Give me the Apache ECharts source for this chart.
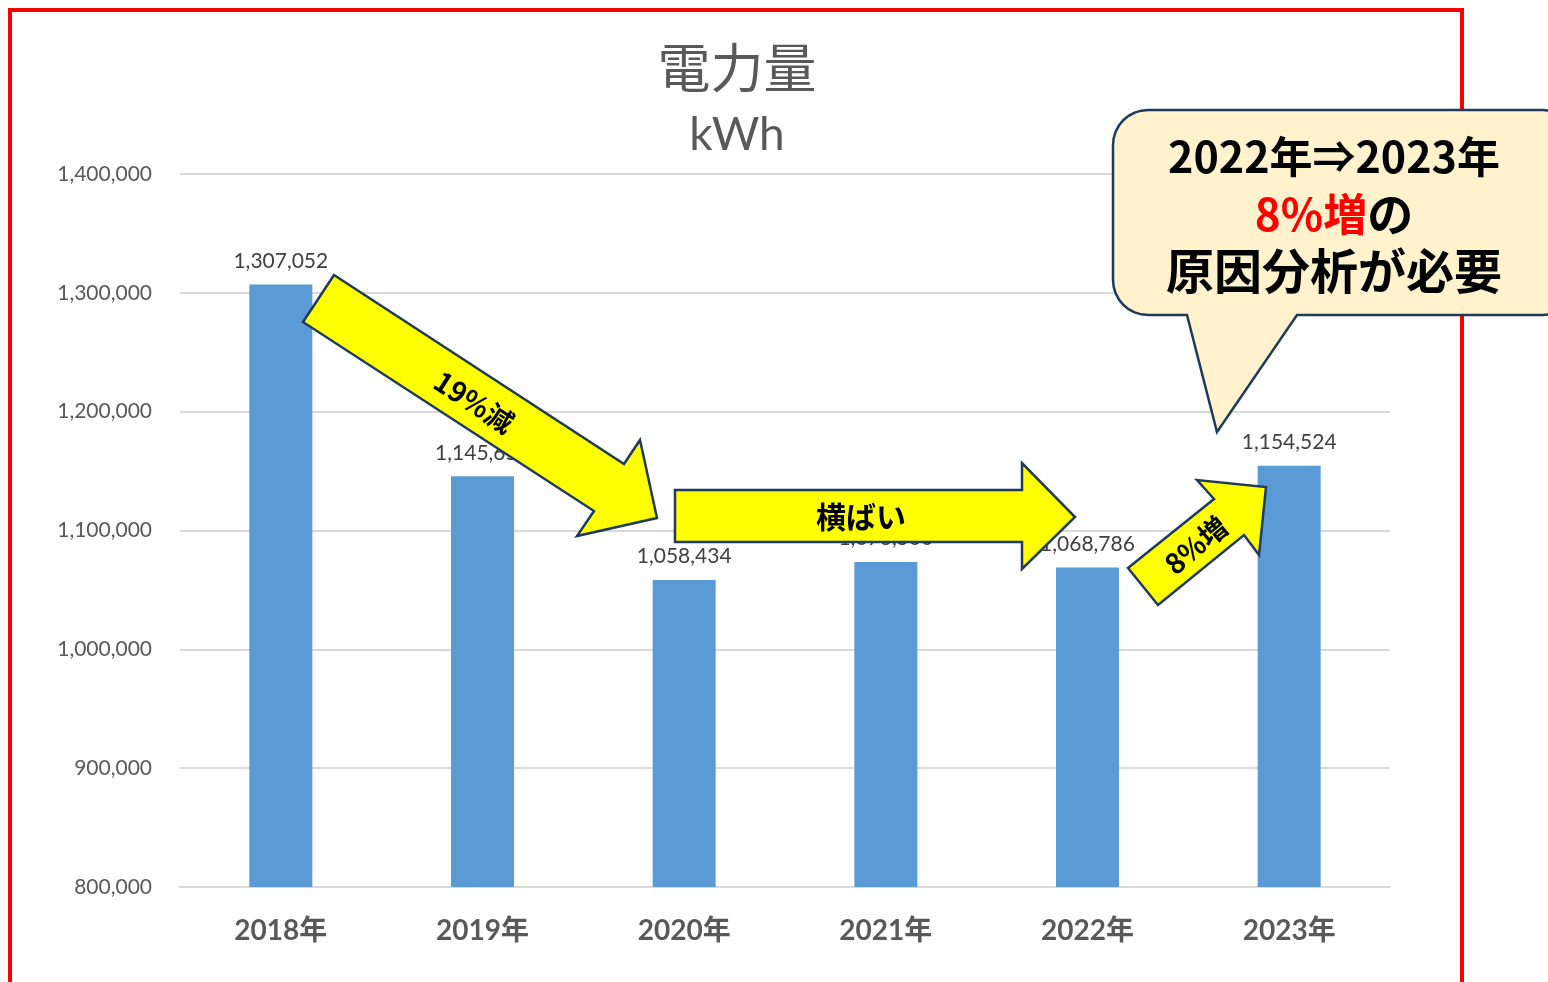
<!DOCTYPE html>
<html>
<head>
<meta charset="utf-8">
<script src="https://cdn.jsdelivr.net/npm/echarts@6/dist/echarts.min.js"></script>
<style>
  html, body { margin: 0; padding: 0; background: #fff; }
  #chart { width: 1548px; height: 982px; }
</style>
</head>
<body>
<div id="chart"></div>
<script>
// datos
const years = ["2018年", "2019年", "2020年", "2021年", "2022年", "2023年"];
const kwh = [1307052, 1145650, 1058434, 1073500, 1068786, 1154524];
const yTicks = { min: 800000, max: 1400000, interval: 100000 };

const fuente = 'Lato, "Noto Sans CJK JP", sans-serif';
const fuenteJP = '"Noto Sans CJK JP", sans-serif';
const gris = "#595959";
const flecha = { fill: "#ffff00", stroke: "#1f3a5a", lineWidth: 2.5, lineJoin: "miter" };

// contorno del globo (rect redondeado + cola)
function globo(x0, y0, x1, y1, r, cola) {
  const pts = [];
  const esquina = (cx, cy, a0) => {
    for (let i = 0; i <= 8; i++) {
      const a = a0 + (i / 8) * (Math.PI / 2);
      pts.push([cx + r * Math.cos(a), cy + r * Math.sin(a)]);
    }
  };
  esquina(x0 + r, y0 + r, Math.PI);
  esquina(x1 - r, y0 + r, -Math.PI / 2);
  esquina(x1 - r, y1 - r, 0);
  cola.forEach((p) => pts.push(p));
  esquina(x0 + r, y1 - r, Math.PI / 2);
  return pts;
}

const container = document.querySelector("#chart");
const miGrafico = echarts.init(container);

const option = {
  animation: false,
  grid: { left: 180, right: 158, top: 174, bottom: 95 },
  xAxis: {
    type: "category",
    data: years,
    axisLine: { lineStyle: { color: "#d9d9d9", width: 2 } },
    axisTick: { show: false },
    axisLabel: {
      color: gris, fontSize: 28, fontWeight: "bold", fontFamily: fuente, margin: 30,
    },
  },
  yAxis: {
    type: "value",
    min: yTicks.min,
    max: yTicks.max,
    interval: yTicks.interval,
    axisLine: { show: false },
    axisTick: { show: false },
    splitLine: { lineStyle: { color: "#d9d9d9", width: 2 } },
    axisLabel: {
      color: gris, fontSize: 21, fontFamily: fuente, margin: 28,
      formatter: (v) => v.toLocaleString("en-US"),
    },
  },
  series: [
    {
      type: "bar",
      data: kwh,
      barWidth: 63,
      itemStyle: { color: "#5b9bd5" },
      label: {
        show: true,
        position: "top",
        distance: 13,
        color: "#404040",
        fontSize: 21,
        fontFamily: fuente,
        formatter: (p) => p.value.toLocaleString("en-US"),
      },
    },
  ],
  graphic: [
    // marco rojo
    {
      type: "rect", z: 50, silent: true,
      shape: { x: 10, y: 10, width: 1452, height: 1000 },
      style: { fill: "none", stroke: "#ff0000", lineWidth: 4 },
    },
    // titulo
    {
      type: "text", z: 60, x: 737, y: 68,
      style: { text: "電力量", fill: gris, font: '53px ' + fuenteJP, align: "center", verticalAlign: "middle" },
    },
    {
      type: "text", z: 60, x: 737, y: 135,
      style: { text: "kWh", fill: gris, font: '46px ' + fuente, align: "center", verticalAlign: "middle" },
    },
    // flecha 19%減
    {
      type: "polygon", z: 100,
      shape: { points: [[334, 275], [624, 464], [640, 440], [657, 518], [577, 536], [594, 511], [303, 322]] },
      style: flecha,
    },
    {
      type: "text", z: 101, x: 474, y: 402, rotation: -33 * Math.PI / 180,
      style: { text: "19%減", fill: "#000", font: 'bold 28px ' + fuenteJP, align: "center", verticalAlign: "middle" },
    },
    // flecha 横ばい
    {
      type: "polygon", z: 100,
      shape: { points: [[675, 490], [1022, 490], [1022, 463], [1075, 517], [1022, 569], [1022, 542], [675, 542]] },
      style: flecha,
    },
    {
      type: "text", z: 101, x: 861, y: 517,
      style: { text: "横ばい", fill: "#000", font: 'bold 30px ' + fuenteJP, align: "center", verticalAlign: "middle" },
    },
    // flecha 8%増
    {
      type: "polygon", z: 100,
      shape: { points: [[1128, 568], [1214, 499], [1197, 480], [1266, 487], [1259, 555], [1244, 535], [1158, 605]] },
      style: flecha,
    },
    {
      type: "text", z: 101, x: 1196, y: 545, rotation: 40 * Math.PI / 180,
      style: { text: "8%増", fill: "#000", font: 'bold 28px ' + fuenteJP, align: "center", verticalAlign: "middle" },
    },
    // globo
    {
      type: "polygon", z: 110,
      shape: { points: globo(1113, 110, 1578, 315, 35, [[1297, 315], [1217, 432], [1187, 315]]) },
      style: { fill: "#fff2cc", stroke: "#1f3a5a", lineWidth: 2.5 },
    },
    {
      type: "text", z: 111, x: 1334, y: 214,
      style: {
        text: "{a|2022年⇒2023年}\n{r|8%増}{k|の}\n{c|原因分析が必要}",
        align: "center",
        verticalAlign: "middle",
        lineHeight: 57,
        rich: {
          a: { fill: "#000", fontSize: 43, fontWeight: "bold", fontFamily: fuenteJP, lineHeight: 57 },
          k: { fill: "#000", fontSize: 46, fontWeight: "bold", fontFamily: fuenteJP, lineHeight: 57 },
          c: { fill: "#000", fontSize: 48, fontWeight: "bold", fontFamily: fuenteJP, lineHeight: 57 },
          r: { fill: "#ff0000", fontSize: 44, fontWeight: "bold", fontFamily: fuenteJP, lineHeight: 57 },
        },
      },
    },
  ],
};

miGrafico.setOption(option);
</script>
</body>
</html>
